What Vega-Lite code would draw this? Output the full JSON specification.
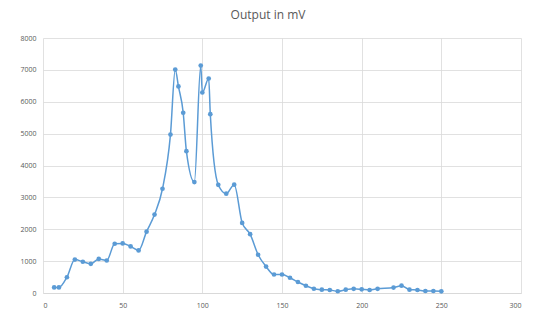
{
  "$schema": "https://vega.github.io/schema/vega-lite/v6.json",
  "width": 478,
  "height": 255,
  "autosize": {"type": "none"},
  "padding": {"left": 43, "top": 38, "right": 12, "bottom": 17},
  "background": "white",
  "title": {
    "text": "Output in mV",
    "font": "Open Sans",
    "fontSize": 12,
    "fontWeight": "normal",
    "color": "#595959",
    "anchor": "middle",
    "dx": -14,
    "offset": 12
  },
  "config": {
    "view": {"stroke": null},
    "axis": {
      "labelFont": "Open Sans",
      "labelFontSize": 7,
      "labelColor": "#595959",
      "gridColor": "#D9D9D9",
      "gridWidth": 0.8,
      "ticks": false,
      "title": null
    }
  },
  "data": {
    "values": [
      {"x": 7, "mv": 175},
      {"x": 10, "mv": 175},
      {"x": 15, "mv": 495},
      {"x": 20, "mv": 1050},
      {"x": 25, "mv": 980},
      {"x": 30, "mv": 915},
      {"x": 35, "mv": 1070},
      {"x": 40, "mv": 1020},
      {"x": 45, "mv": 1545},
      {"x": 50, "mv": 1555},
      {"x": 55, "mv": 1460},
      {"x": 60, "mv": 1335},
      {"x": 65, "mv": 1925},
      {"x": 70, "mv": 2460},
      {"x": 75, "mv": 3270},
      {"x": 80, "mv": 4970},
      {"x": 83, "mv": 7010},
      {"x": 85, "mv": 6480},
      {"x": 88, "mv": 5655},
      {"x": 90, "mv": 4450},
      {"x": 95, "mv": 3480},
      {"x": 99, "mv": 7135},
      {"x": 100, "mv": 6290},
      {"x": 104, "mv": 6730},
      {"x": 105, "mv": 5610},
      {"x": 110, "mv": 3395},
      {"x": 115, "mv": 3115},
      {"x": 120, "mv": 3400},
      {"x": 125, "mv": 2200},
      {"x": 130, "mv": 1845},
      {"x": 135, "mv": 1200},
      {"x": 140, "mv": 830},
      {"x": 145, "mv": 580},
      {"x": 150, "mv": 580},
      {"x": 155, "mv": 478},
      {"x": 160, "mv": 345},
      {"x": 165, "mv": 228},
      {"x": 170, "mv": 134},
      {"x": 175, "mv": 103},
      {"x": 180, "mv": 94},
      {"x": 185, "mv": 55},
      {"x": 190, "mv": 103},
      {"x": 195, "mv": 130},
      {"x": 200, "mv": 115},
      {"x": 205, "mv": 95},
      {"x": 210, "mv": 130},
      {"x": 220, "mv": 170},
      {"x": 225, "mv": 229},
      {"x": 230, "mv": 104},
      {"x": 235, "mv": 94},
      {"x": 240, "mv": 63},
      {"x": 245, "mv": 63},
      {"x": 250, "mv": 52}
    ]
  },
  "mark": {
    "type": "line",
    "interpolate": "monotone",
    "color": "#5B9BD5",
    "strokeWidth": 1.5,
    "point": {"filled": true, "size": 22, "color": "#5B9BD5"}
  },
  "encoding": {
    "x": {
      "field": "x",
      "type": "quantitative",
      "scale": {"domain": [0, 300], "nice": false},
      "axis": {
        "values": [0, 50, 100, 150, 200, 250, 300],
        "format": "d",
        "labelPadding": 8,
        "domainColor": "#D9D9D9",
        "grid": true
      }
    },
    "y": {
      "field": "mv",
      "type": "quantitative",
      "scale": {"domain": [0, 8000], "nice": false},
      "axis": {
        "values": [0, 1000, 2000, 3000, 4000, 5000, 6000, 7000, 8000],
        "format": "d",
        "labelPadding": 7,
        "domain": false,
        "grid": true
      }
    }
  }
}
